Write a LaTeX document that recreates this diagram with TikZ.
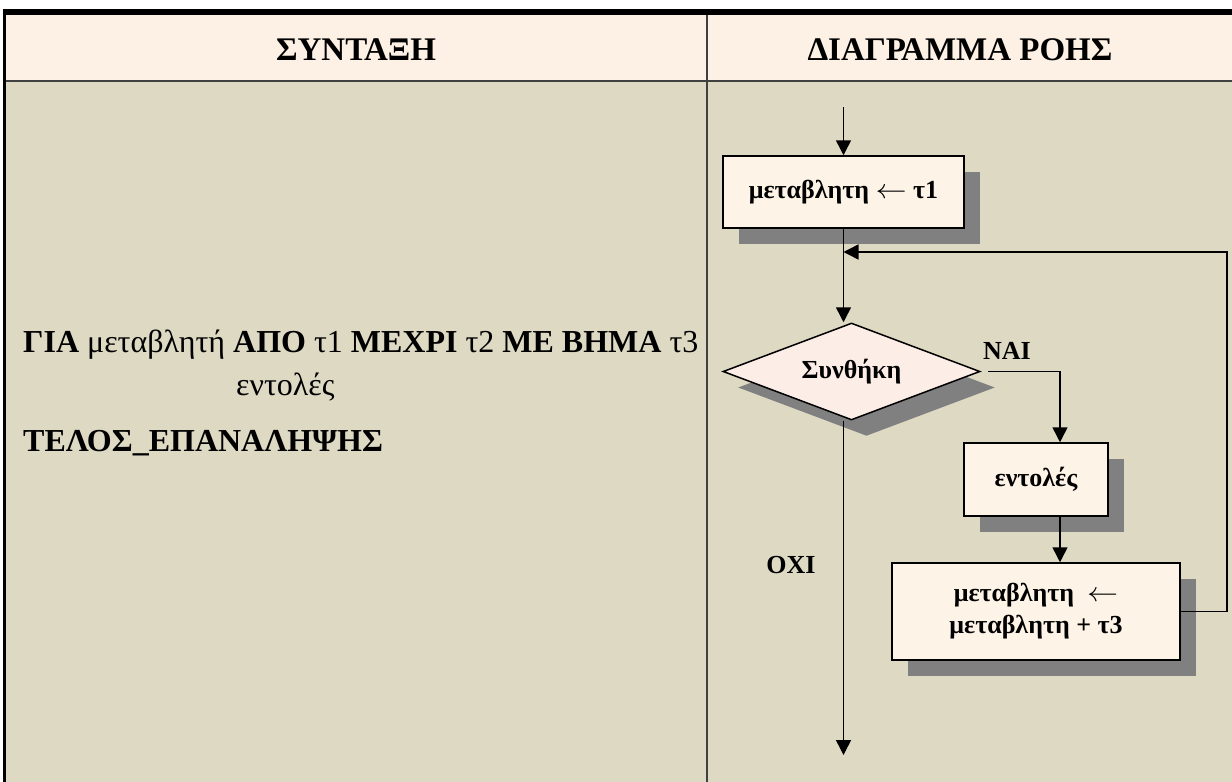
\documentclass[tikz,border=0pt]{standalone}
\usepackage{fontspec}
\setmainfont{Liberation Serif}
\usetikzlibrary{shapes.geometric,shadows,arrows.meta}
\definecolor{headfill}{HTML}{FDF0E4}
\definecolor{bodyfill}{HTML}{DDD9C3}
\definecolor{boxfill}{HTML}{FEF3E7}
\definecolor{condfill}{HTML}{FDEDE7}
\definecolor{shadowgray}{HTML}{808080}
\definecolor{rulegray}{HTML}{404040}
\newcommand{\assign}{\scalebox{1.25}[1.1]{$\leftarrow$}}

\begin{document}
\begin{tikzpicture}[
  x=1pt, y=-1pt,
  box/.style={rectangle, draw, line width=1.5pt, fill=boxfill, align=center, inner sep=0pt,
    font=\fontsize{26}{32}\selectfont\bfseries,
    drop shadow={shadow xshift=16pt, shadow yshift=-16pt, fill=shadowgray, opacity=1}},
  decision/.style={diamond, draw, line width=1.5pt, fill=condfill, inner sep=0pt, aspect=2.6,
    minimum width=257pt, minimum height=97pt, font=\fontsize{26}{32}\selectfont\bfseries,
    drop shadow={shadow xshift=15pt, shadow yshift=-16pt, fill=shadowgray, opacity=1}},
  flow/.style={-{Triangle[length=15pt,width=15pt]}, line width=1.5pt},
  lbl/.style={font=\fontsize{26}{32}\selectfont\bfseries},
  code/.style={anchor=base west, inner sep=0pt, font=\fontsize{32}{38}\selectfont},
  head/.style={anchor=base, font=\fontsize{33}{38}\selectfont\bfseries}
]
\useasboundingbox (0,0) rectangle (1232,782);

% table
\fill[headfill] (5,12) rectangle (1232,81);
\fill[bodyfill] (5,81) rectangle (1232,782);
\draw[rulegray, line width=2pt] (5,81) -- (1232,81);
\draw[rulegray, line width=2pt] (707,12) -- (707,782);
\draw[line width=6pt] (3,12) -- (1232,12);
\draw[line width=3pt] (4.5,9) -- (4.5,782);

\node[head] (syntax) at (356,60) {ΣΥΝΤΑΞΗ};
\node[head] (chart) at (960,60) {ΔΙΑΓΡΑΜΜΑ ΡΟΗΣ};

% syntax
\node[code] (forline) at (23,352) {{\bfseries ΓΙΑ} μεταβλητή {\bfseries ΑΠΟ} τ1 {\bfseries ΜΕΧΡΙ} τ2 {\bfseries ΜΕ ΒΗΜΑ} τ3};
\node[code] (bodyline) at (236,395) {εντολές};
\node[code] (endline) at (23,451) {\bfseries ΤΕΛΟΣ\_ΕΠΑΝΑΛΗΨΗΣ};

% flowchart
\coordinate (entry) at (843.5,107);
\coordinate (merge) at (843.5,252);
\coordinate (exit) at (843.5,755);
\node[box, minimum width=241pt, minimum height=72pt] (init) at (843.5,192) {μεταβλητη \assign{} τ1};
\node[decision] (cond) at (851.5,371.5) {Συνθήκη};
\node[box, minimum width=144pt, minimum height=73pt] (body) at (1036,479.5) {εντολές};
\node[box, minimum width=288pt, minimum height=97pt] (update) at (1036,611.5) {μεταβλητη \ \assign\\μεταβλητη + τ3};

\node[lbl] (yes) at (1007,351) {ΝΑΙ};
\node[lbl] (no) at (791,565) {ΟΧΙ};

\draw[flow] (entry) -- (init);
\draw[flow] (init.south) -- (init.south |- cond.north);
\draw[flow] (update.east) -- ++(46,0) |- (merge);
\draw[flow] ([xshift=7pt]cond.east) -| ([xshift=24pt]body.north);
\draw[flow] ([xshift=24pt]body.south) -- ([xshift=24pt]update.north);
\draw[flow] (init.south |- cond.south) -- (exit);
\end{tikzpicture}
\end{document}
